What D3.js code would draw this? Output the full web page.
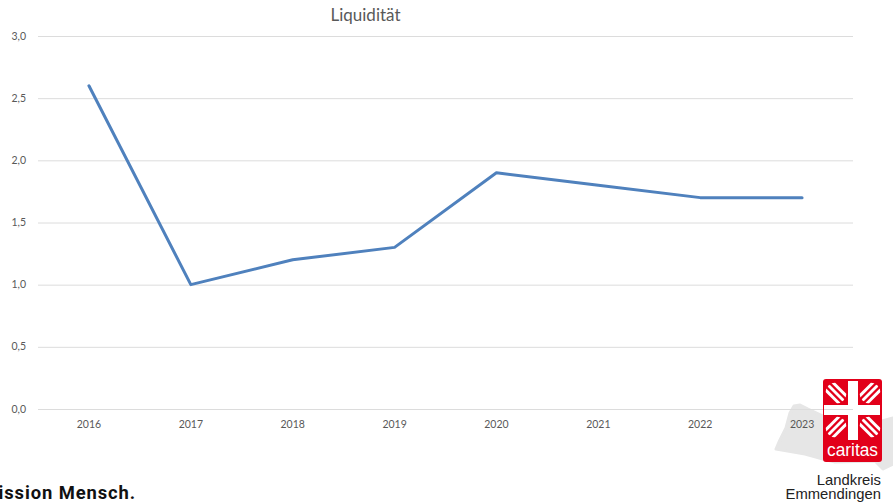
<!DOCTYPE html>
<html>
<head>
<meta charset="utf-8">
<script src="https://cdn.jsdelivr.net/npm/d3@7"></script>
<style>
  html, body { margin: 0; padding: 0; background: #fff; overflow: hidden; }
  svg { display: block; }
</style>
</head>
<body>
<script>
const years = ['2016', '2017', '2018', '2019', '2020', '2021', '2022', '2023'];
const liquiditaet = [2.6, 1.0, 1.2, 1.3, 1.9, 1.8, 1.7, 1.7];
const yTicks = [0, 0.5, 1, 1.5, 2, 2.5, 3];

const width = 893, height = 503;
const fontFamily = 'Lato, "Open Sans", sans-serif';

const svg = d3.select('body').append('svg')
  .attr('width', width)
  .attr('height', height);

const x = d3.scaleBand().domain(years).range([38, 853]);
const y = d3.scaleLinear().domain([0, 3]).range([409, 36]);

/* grey district shape behind the logo */
svg.append('path')
  .attr('fill', '#e6e6e6')
  .attr('stroke', '#e6e6e6')
  .attr('stroke-width', 3)
  .attr('stroke-linejoin', 'round')
  .attr('d', 'M776 449 L779 442 L786 428 L790 413 L794 406 L800 405 L808 409 L823 416 L882 421 L893 418 L893 464 L883 469 L875 461 L835 462 L823 459 L805 454 Z');

/* grid */
svg.append('g')
  .selectAll('line')
  .data(yTicks)
  .enter().append('line')
  .attr('x1', 38)
  .attr('x2', 853)
  .attr('y1', d => y(d) + 0.5)
  .attr('y2', d => y(d) + 0.5)
  .attr('stroke', '#dcdcdc')
  .attr('stroke-width', 1);

/* y labels */
svg.append('g')
  .selectAll('text')
  .data(yTicks)
  .enter().append('text')
  .attr('x', 26)
  .attr('y', d => y(d) + 3.5)
  .attr('text-anchor', 'end')
  .attr('font-family', fontFamily)
  .attr('font-size', 10.5)
  .attr('fill', '#595959')
  .text(d => d3.format('.1f')(d).replace('.', ','));

/* x labels */
svg.append('g')
  .selectAll('text')
  .data(years)
  .enter().append('text')
  .attr('x', d => x(d) + x.bandwidth() / 2)
  .attr('y', 428)
  .attr('text-anchor', 'middle')
  .attr('font-family', fontFamily)
  .attr('font-size', 10.5)
  .attr('fill', '#595959')
  .text(d => d);

/* line */
const line = d3.line()
  .x((d, i) => x(years[i]) + x.bandwidth() / 2)
  .y(d => y(d));

svg.append('path')
  .datum(liquiditaet)
  .attr('fill', 'none')
  .attr('stroke', '#4f81bd')
  .attr('stroke-width', 3)
  .attr('stroke-linecap', 'round')
  .attr('stroke-linejoin', 'round')
  .attr('d', line);

/* title */
svg.append('text')
  .attr('x', 365.5)
  .attr('y', 21)
  .attr('text-anchor', 'middle')
  .attr('font-family', fontFamily)
  .attr('font-size', 17)
  .attr('fill', '#595959')
  .text('Liquidität');

/* footer claim, cut off at the left edge */
svg.append('text')
  .attr('x', 136)
  .attr('y', 499)
  .attr('text-anchor', 'end')
  .attr('font-family', 'Roboto, sans-serif')
  .attr('font-weight', 700)
  .attr('font-size', 18.4)
  .attr('letter-spacing', 0.9)
  .attr('fill', '#111')
  .text('Mission Mensch.');

/* caritas logo */
const logo = svg.append('g');
logo.append('rect')
  .attr('x', 823).attr('y', 379)
  .attr('width', 59).attr('height', 83)
  .attr('rx', 3)
  .attr('fill', '#e2001a');

/* three rays in each corner of the cross, cut round by a circle */
const petals = [
  { cx: 836, cy: 393, dx: 1, dy: 1 },
  { cx: 870, cy: 393, dx: 1, dy: -1 },
  { cx: 836, cy: 427, dx: 1, dy: -1 },
  { cx: 870, cy: 427, dx: 1, dy: 1 }
];
const defs = svg.append('defs');
petals.forEach((p, i) => {
  defs.append('clipPath').attr('id', 'petal' + i)
    .append('circle').attr('cx', p.cx).attr('cy', p.cy).attr('r', 10.5);
  [-5.2, 0, 5.2].forEach(off => {
    const ox = off * Math.SQRT1_2 * p.dy, oy = -off * Math.SQRT1_2 * p.dx;
    logo.append('line')
      .attr('clip-path', `url(#petal${i})`)
      .attr('x1', p.cx + ox - 20 * p.dx)
      .attr('y1', p.cy + oy - 20 * p.dy)
      .attr('x2', p.cx + ox + 20 * p.dx)
      .attr('y2', p.cy + oy + 20 * p.dy)
      .attr('stroke', '#fff')
      .attr('stroke-width', 2.9);
  });
});

logo.append('rect').attr('x', 848).attr('y', 381).attr('width', 10).attr('height', 59).attr('fill', '#fff');
logo.append('rect').attr('x', 824).attr('y', 405).attr('width', 56).attr('height', 10).attr('fill', '#fff');
logo.append('line')
  .attr('x1', 824).attr('x2', 853)
  .attr('y1', 409.5).attr('y2', 409.5)
  .attr('stroke', '#dcdcdc');

logo.append('text')
  .attr('x', 852.5)
  .attr('y', 456)
  .attr('text-anchor', 'middle')
  .attr('font-family', '"Liberation Sans", sans-serif')
  .attr('font-size', 17.5)
  .attr('textLength', 51)
  .attr('lengthAdjust', 'spacingAndGlyphs')
  .attr('fill', '#fff')
  .text('caritas');

['Landkreis', 'Emmendingen'].forEach((t, i) => {
  svg.append('text')
    .attr('x', 881)
    .attr('y', 485 + i * 14)
    .attr('text-anchor', 'end')
    .attr('font-family', '"Liberation Sans", sans-serif')
    .attr('font-size', 14.8)
    .attr('fill', '#222')
    .text(t);
});
</script>
</body>
</html>
